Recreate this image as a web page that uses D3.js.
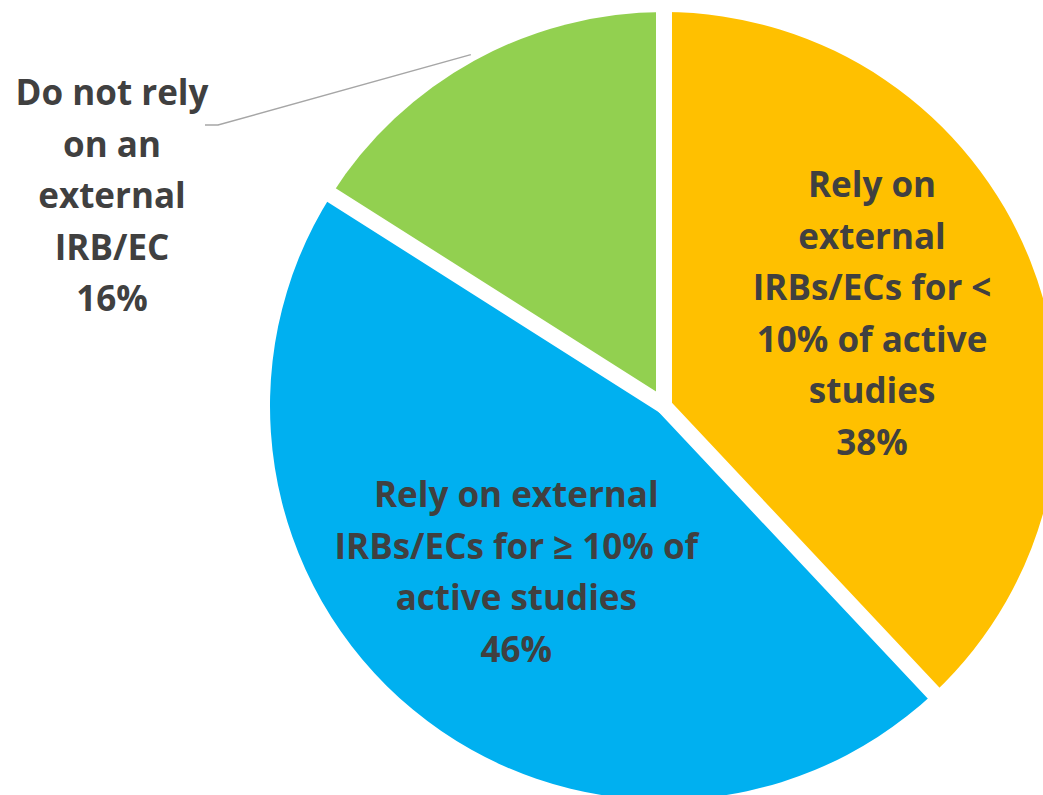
<!DOCTYPE html>
<html>
<head>
<meta charset="utf-8">
<script src="https://cdn.jsdelivr.net/npm/d3@7"></script>
<style>
  html, body { margin: 0; padding: 0; background: #fff; }
</style>
</head>
<body>
<div id="chart"></div>
<script>
const categories = [
  'Rely on external IRBs/ECs for < 10% of active studies',
  'Rely on external IRBs/ECs for ≥ 10% of active studies',
  'Do not rely on an external IRB/EC'
];
const values = [38, 46, 16];
const colors = ['#FFC000', '#00B0F0', '#92D050'];
const labelLines = [
  ['Rely on', 'external', 'IRBs/ECs for <', '10% of active', 'studies'],
  ['Rely on external', 'IRBs/ECs for ≥ 10% of', 'active studies'],
  ['Do not rely', 'on an', 'external', 'IRB/EC']
];

const width = 1043;
const height = 795;
const cx = 664, cy = 406;
const radius = 394;
const gap = 16;
const lineH = 51.5;

const svg = d3.select('#chart')
  .append('svg')
  .attr('width', width)
  .attr('height', height)
  .attr('viewBox', [0, 0, width, height]);

const pie = d3.pie().sort(null).value(d => d.value);
const arcs = pie(values.map((v, i) => ({ value: v, i })));

const arc = d3.arc().innerRadius(0).outerRadius(radius);
const labelArc = d3.arc().innerRadius(227).outerRadius(227);
const leaderArc = d3.arc().innerRadius(radius + 7).outerRadius(radius + 7);

const g = svg.append('g').attr('transform', `translate(${cx},${cy})`);

g.selectAll('path.slice')
  .data(arcs)
  .join('path')
    .attr('class', 'slice')
    .attr('d', arc)
    .attr('fill', d => colors[d.data.i]);

// white gaps between slices
g.selectAll('line.sep')
  .data(arcs)
  .join('line')
    .attr('class', 'sep')
    .attr('x1', 0).attr('y1', 0)
    .attr('x2', d => Math.sin(d.startAngle) * (radius + 20))
    .attr('y2', d => -Math.cos(d.startAngle) * (radius + 20))
    .attr('stroke', '#fff')
    .attr('stroke-width', gap)
    .attr('stroke-linecap', 'round');

const font = "'Open Sans', Lato, sans-serif";

function drawLabel(sel, lines, x, yTop) {
  const t = sel.append('text')
    .attr('text-anchor', 'middle')
    .attr('font-family', font)
    .attr('font-weight', 700)
    .attr('font-size', '35px')
    .attr('fill', '#404040');
  lines.forEach((s, k) => {
    t.append('tspan').attr('x', x).attr('y', yTop + k * lineH).text(s);
  });
}

// inside labels (first two slices)
arcs.slice(0, 2).forEach(d => {
  const [lx, ly] = labelArc.centroid(d);
  const lines = labelLines[d.data.i].concat([values[d.data.i] + '%']);
  const blockH = (lines.length - 1) * lineH + 25;
  drawLabel(g, lines, lx - 3, ly - blockH / 2 + 25 - 9);
});

// outside label with leader line for the small slice
const small = arcs[2];
const [px, py] = leaderArc.centroid(small);
const labelX = 112 - cx;
const elbowX = 218 - cx, elbowY = 125 - cy;
g.append('path')
  .attr('d', `M${px},${py}L${elbowX},${elbowY}L${elbowX - 13},${elbowY}`)
  .attr('fill', 'none')
  .attr('stroke', '#A6A6A6')
  .attr('stroke-width', 1.5);

drawLabel(g, labelLines[2].concat([values[2] + '%']), labelX, 105 - cy);
</script>
</body>
</html>
